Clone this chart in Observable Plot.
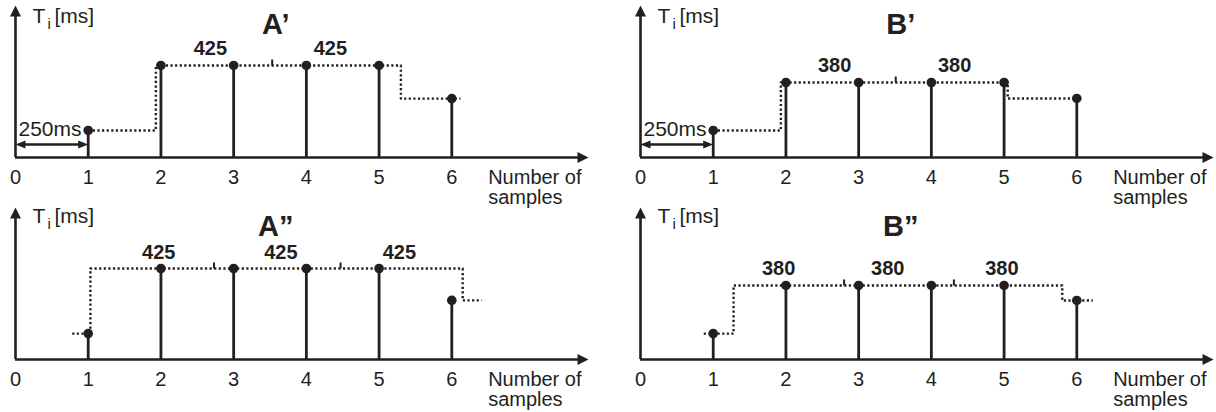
<!DOCTYPE html>
<html>
<head>
<meta charset="utf-8">
<script src="https://cdn.jsdelivr.net/npm/d3@7"></script>
<script src="https://cdn.jsdelivr.net/npm/@observablehq/plot@0.6"></script>
<style>
  html, body { margin: 0; padding: 0; background: #fff; }
  #chart { position: relative; width: 1216px; height: 412px; overflow: hidden; }
</style>
</head>
<body>
<div id="chart"></div>
<script>
// ---- data ----
const sampleX = [1, 2, 3, 4, 5, 6];
const xTicks = [0, 1, 2, 3, 4, 5, 6];
const titles = ["A\u2019", "A\u201D", "B\u2019", "B\u201D"];
const xLabel = "Number of\nsamples";
const yLabelMain = "T";
const yLabelSub = "i";
const yLabelUnit = "[ms]";
const spanLabel = "250ms";
const spanX = [0, 1];

// Ti values per sample (ms, read from stem heights)
const tiA1 = [125, 425, 425, 425, 425, 272];
const tiA2 = [121, 425, 425, 425, 425, 276];
const tiB1 = [137, 380, 380, 380, 380, 299];
const tiB2 = [133, 380, 380, 380, 380, 303];

// dotted step line vertices (sample units, ms)
const stepA1X = [1, 1.93, 1.93, 5.30, 5.30, 6.12];
const stepA1Y = [125, 125, 425, 425, 272, 272];
const stepA2X = [0.78, 1.03, 1.03, 6.15, 6.15, 6.41];
const stepA2Y = [121, 121, 425, 425, 276, 276];
const stepB1X = [1, 1.93, 1.93, 5.05, 5.05, 6.04];
const stepB1Y = [137, 137, 380, 380, 299, 299];
const stepB2X = [0.87, 1.28, 1.28, 5.80, 5.80, 6.22];
const stepB2Y = [133, 133, 380, 380, 303, 303];

// period boundary ticks on the dotted line
const ticksA1 = [3.53];
const ticksA2 = [2.73, 4.47];
const ticksB1 = [3.51];
const ticksB2 = [2.80, 4.31];

// period value labels
const labA1X = [2.68, 4.33];
const labA1 = ["425", "425"];
const labA2X = [1.97, 3.65, 5.28];
const labA2 = ["425", "425", "425"];
const labB1X = [2.67, 4.32];
const labB1 = ["380", "380"];
const labB2X = [1.90, 3.40, 4.97];
const labB2 = ["380", "380", "380"];

const titleX = [3.58];
const xLabelX = [6.5];
const xAxisEnd = [7.88];

// ---- drawing ----
const FONT = "'Liberation Sans', Arial, Helvetica, sans-serif";
const INK = "#231f20";

const tickUp = {draw(ctx, size) { const r = Math.sqrt(size / Math.PI); ctx.moveTo(0, 0); ctx.lineTo(0, -r); }};
const headUp = {draw(ctx, size) { const r = Math.sqrt(size / Math.PI); ctx.moveTo(0, 0); ctx.lineTo(r, 2 * r); ctx.lineTo(-r, 2 * r); ctx.closePath(); }};
const headRight = {draw(ctx, size) { const r = Math.sqrt(size / Math.PI); ctx.moveTo(0, 0); ctx.lineTo(-2 * r, -r); ctx.lineTo(-2 * r, r); ctx.closePath(); }};
const headRightS = {draw(ctx, size) { const r = Math.sqrt(size / Math.PI); ctx.moveTo(0, 0); ctx.lineTo(-2 * r, -0.8 * r); ctx.lineTo(-2 * r, 0.8 * r); ctx.closePath(); }};
const headLeftS = {draw(ctx, size) { const r = Math.sqrt(size / Math.PI); ctx.moveTo(0, 0); ctx.lineTo(2 * r, -0.8 * r); ctx.lineTo(2 * r, 0.8 * r); ctx.closePath(); }};

function panel({ti, stepX, stepY, ticks, labX, lab, title, yTop, span, left, top, yLabDy}) {
  const samples = sampleX.map((x, i) => ({x, y: ti[i]}));
  const step = stepX.map((x, i) => ({x, y: stepY[i]}));
  const level = ti[1];
  const marks = [
    Plot.ruleY([0], {x1: 0, x2: xAxisEnd[0] - 0.05, stroke: INK, strokeWidth: 2.6}),
    Plot.dot(xAxisEnd, {x: d => d, y: 0, r: 5.5, symbol: headRight, fill: INK, stroke: "none"}),
    Plot.ruleX([0], {y1: 0, y2: yTop * 0.97, stroke: INK, strokeWidth: 2.6}),
    Plot.dot([yTop], {x: 0, y: d => d, r: 5.5, symbol: headUp, fill: INK, stroke: "none"}),
    Plot.axisX(xTicks, {tickSize: 0, tickPadding: 12, fontSize: 20, label: null}),
    Plot.line(step, {x: "x", y: "y", stroke: INK, strokeWidth: 2.4, strokeDasharray: "2.2,2.4", strokeLinecap: "butt"}),
    Plot.ruleX(samples, {x: "x", y1: 0, y2: "y", stroke: INK, strokeWidth: 2.8}),
    Plot.dot(samples, {x: "x", y: "y", r: 4.8, fill: INK, stroke: "none"}),
    Plot.dot(ticks, {x: d => d, y: level, r: 6, symbol: tickUp, stroke: INK, strokeWidth: 2, fill: "none"}),
    Plot.text(lab, {x: (d, i) => labX[i], y: level, text: d => d, dy: -10, lineAnchor: "bottom", fontSize: 20, fontWeight: "bold", fill: INK}),
    Plot.text([title], {x: titleX[0], frameAnchor: "top", text: d => d, lineAnchor: "top", dy: 8, fontSize: 29, fontWeight: "bold", fill: INK}),
    Plot.text([xLabel], {x: xLabelX[0], y: 0, text: d => d, textAnchor: "start", lineAnchor: "top", dy: 12, fontSize: 20, lineHeight: 1, fill: INK}),
    Plot.text([yLabelMain], {frameAnchor: "top-left", text: d => d, textAnchor: "start", lineAnchor: "bottom", dx: 17, dy: yLabDy, fontSize: 21, fill: INK}),
    Plot.text([yLabelSub], {frameAnchor: "top-left", text: d => d, textAnchor: "start", lineAnchor: "bottom", dx: 32, dy: yLabDy + 6, fontSize: 15, fill: INK}),
    Plot.text([yLabelUnit], {frameAnchor: "top-left", text: d => d, textAnchor: "start", lineAnchor: "bottom", dx: 39, dy: yLabDy, fontSize: 21, fill: INK})
  ];
  if (span) {
    marks.push(
      Plot.ruleY([0], {x1: spanX[0] + 0.05, x2: spanX[1] - 0.05, dy: -13, stroke: INK, strokeWidth: 2.4}),
      Plot.dot([spanX[0]], {x: d => d, y: 0, dy: -13, r: 5, symbol: headLeftS, fill: INK, stroke: "none"}),
      Plot.dot([spanX[1]], {x: d => d, y: 0, dy: -13, r: 5, symbol: headRightS, fill: INK, stroke: "none"}),
      Plot.text([spanLabel], {x: spanX[0], y: 0, text: d => d, textAnchor: "start", lineAnchor: "bottom", dx: 3, dy: -22, fontSize: 21, fill: INK})
    );
  }
  const svg = Plot.plot({
    width: 600,
    height: 210,
    marginLeft: 15,
    marginRight: 12,
    marginTop: 5,
    marginBottom: 53,
    x: {domain: [0, xAxisEnd[0]], axis: null},
    y: {domain: [0, yTop], axis: null},
    style: {fontFamily: FONT, color: INK, background: "transparent", overflow: "visible", position: "absolute", left: left + "px", top: top + "px"},
    marks
  });
  document.getElementById("chart").appendChild(svg);
}

panel({ti: tiA1, stepX: stepA1X, stepY: stepA1Y, ticks: ticksA1, labX: labA1X, lab: labA1, title: titles[0], yTop: 702, span: true, left: 0, top: 0, yLabDy: 17});
panel({ti: tiB1, stepX: stepB1X, stepY: stepB1Y, ticks: ticksB1, labX: labB1X, lab: labB1, title: titles[2], yTop: 770, span: true, left: 625, top: 0, yLabDy: 17});
panel({ti: tiA2, stepX: stepA2X, stepY: stepA2Y, ticks: ticksA2, labX: labA2X, lab: labA2, title: titles[1], yTop: 710, span: false, left: 0, top: 202, yLabDy: 15});
panel({ti: tiB2, stepX: stepB2X, stepY: stepB2Y, ticks: ticksB2, labX: labB2X, lab: labB2, title: titles[3], yTop: 780, span: false, left: 625, top: 202, yLabDy: 15});
</script>
</body>
</html>
